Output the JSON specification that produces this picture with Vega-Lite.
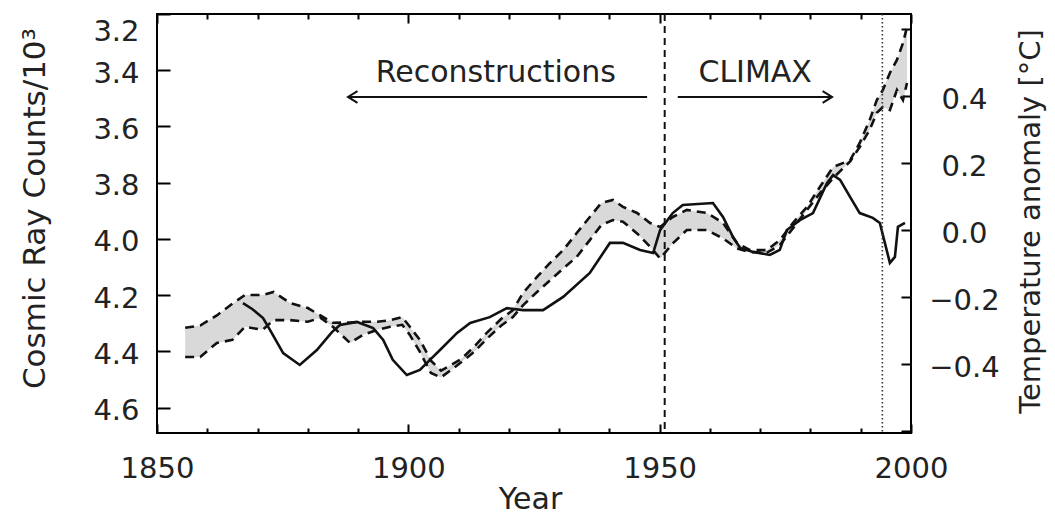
{
  "$schema": "https://vega.github.io/schema/vega-lite/v6.json",
  "width": 754,
  "height": 419,
  "autosize": "none",
  "padding": {"left": 157, "top": 14, "right": 144, "bottom": 82},
  "background": "white",
  "config": {
    "view": {"stroke": "#000", "strokeWidth": 2},
    "font": "DejaVu Sans",
    "axis": {
      "labelFont": "DejaVu Sans",
      "titleFont": "DejaVu Sans",
      "labelColor": "#222",
      "titleColor": "#222",
      "tickColor": "#000",
      "tickWidth": 2,
      "domain": false,
      "grid": false,
      "labelFontSize": 29,
      "titleFontSize": 30,
      "titleFontWeight": "normal",
      "labelOverlap": false,
      "labelFlush": false
    }
  },
  "datasets": {
    "cosmic": [
      {"year": 1867.1, "cr": 4.228}, {"year": 1869.0, "cr": 4.25}, {"year": 1871.1, "cr": 4.281},
      {"year": 1872.5, "cr": 4.324}, {"year": 1875.1, "cr": 4.406}, {"year": 1878.4, "cr": 4.448},
      {"year": 1881.8, "cr": 4.395}, {"year": 1884.8, "cr": 4.331}, {"year": 1886.4, "cr": 4.306},
      {"year": 1889.8, "cr": 4.295}, {"year": 1893.0, "cr": 4.317}, {"year": 1895.0, "cr": 4.359},
      {"year": 1896.9, "cr": 4.43}, {"year": 1899.7, "cr": 4.484}, {"year": 1902.3, "cr": 4.466},
      {"year": 1904.3, "cr": 4.43}, {"year": 1906.3, "cr": 4.395}, {"year": 1909.7, "cr": 4.334},
      {"year": 1912.3, "cr": 4.299}, {"year": 1916.2, "cr": 4.278}, {"year": 1919.6, "cr": 4.246},
      {"year": 1922.8, "cr": 4.253}, {"year": 1926.8, "cr": 4.253}, {"year": 1930.8, "cr": 4.206},
      {"year": 1936.1, "cr": 4.121}, {"year": 1940.1, "cr": 4.014}, {"year": 1942.7, "cr": 4.014},
      {"year": 1946.1, "cr": 4.039}, {"year": 1948.7, "cr": 4.05}, {"year": 1950.1, "cr": 3.968},
      {"year": 1952.6, "cr": 3.908}, {"year": 1954.6, "cr": 3.879}, {"year": 1960.6, "cr": 3.872},
      {"year": 1962.6, "cr": 3.922}, {"year": 1964.6, "cr": 3.993}, {"year": 1966.0, "cr": 4.032},
      {"year": 1968.6, "cr": 4.046}, {"year": 1971.9, "cr": 4.057}, {"year": 1973.9, "cr": 4.039},
      {"year": 1975.3, "cr": 3.968}, {"year": 1977.9, "cr": 3.933}, {"year": 1980.5, "cr": 3.908},
      {"year": 1983.3, "cr": 3.801}, {"year": 1984.5, "cr": 3.773}, {"year": 1985.9, "cr": 3.79},
      {"year": 1987.9, "cr": 3.851}, {"year": 1989.8, "cr": 3.908}, {"year": 1992.4, "cr": 3.925},
      {"year": 1993.8, "cr": 3.943}, {"year": 1994.8, "cr": 4.014}, {"year": 1995.8, "cr": 4.085},
      {"year": 1996.8, "cr": 4.064}, {"year": 1997.4, "cr": 3.957}, {"year": 1998.8, "cr": 3.943}
    ],
    "temp": [
      {"year": 1855.6, "hi": -0.292, "lo": -0.379}, {"year": 1858.6, "hi": -0.285, "lo": -0.379},
      {"year": 1861.9, "hi": -0.255, "lo": -0.337}, {"year": 1865.0, "hi": -0.22, "lo": -0.328},
      {"year": 1867.5, "hi": -0.194, "lo": -0.289}, {"year": 1871.0, "hi": -0.194, "lo": -0.298},
      {"year": 1873.2, "hi": -0.185, "lo": -0.269}, {"year": 1876.5, "hi": -0.218, "lo": -0.269},
      {"year": 1880.0, "hi": -0.233, "lo": -0.274}, {"year": 1882.5, "hi": -0.255, "lo": -0.262},
      {"year": 1885.0, "hi": -0.277, "lo": -0.289}, {"year": 1888.4, "hi": -0.276, "lo": -0.337},
      {"year": 1891.0, "hi": -0.274, "lo": -0.313}, {"year": 1893.8, "hi": -0.274, "lo": -0.298},
      {"year": 1896.4, "hi": -0.269, "lo": -0.289}, {"year": 1898.8, "hi": -0.26, "lo": -0.283},
      {"year": 1900.3, "hi": -0.289, "lo": -0.313}, {"year": 1902.3, "hi": -0.328, "lo": -0.364},
      {"year": 1904.5, "hi": -0.39, "lo": -0.427}, {"year": 1906.5, "hi": -0.42, "lo": -0.44},
      {"year": 1908.3, "hi": -0.405, "lo": -0.42}, {"year": 1910.5, "hi": -0.385, "lo": -0.395},
      {"year": 1913.0, "hi": -0.35, "lo": -0.365}, {"year": 1915.6, "hi": -0.307, "lo": -0.325},
      {"year": 1918.5, "hi": -0.265, "lo": -0.285}, {"year": 1920.8, "hi": -0.239, "lo": -0.26},
      {"year": 1922.8, "hi": -0.188, "lo": -0.225}, {"year": 1925.6, "hi": -0.14, "lo": -0.185},
      {"year": 1928.2, "hi": -0.098, "lo": -0.15}, {"year": 1930.8, "hi": -0.06, "lo": -0.115},
      {"year": 1933.5, "hi": -0.009, "lo": -0.08}, {"year": 1936.1, "hi": 0.039, "lo": -0.03},
      {"year": 1938.4, "hi": 0.081, "lo": 0.015}, {"year": 1940.7, "hi": 0.09, "lo": 0.03},
      {"year": 1942.7, "hi": 0.069, "lo": 0.025}, {"year": 1945.5, "hi": 0.051, "lo": -0.01},
      {"year": 1948.1, "hi": 0.021, "lo": -0.05}, {"year": 1950.1, "hi": 0.009, "lo": -0.085},
      {"year": 1952.6, "hi": 0.039, "lo": -0.04}, {"year": 1955.4, "hi": 0.06, "lo": 0.0},
      {"year": 1959.4, "hi": 0.051, "lo": 0.0}, {"year": 1962.6, "hi": 0.021, "lo": -0.025},
      {"year": 1965.4, "hi": -0.039, "lo": -0.055}, {"year": 1968.0, "hi": -0.06, "lo": -0.066},
      {"year": 1971.3, "hi": -0.06, "lo": -0.068}, {"year": 1973.9, "hi": -0.03, "lo": -0.045},
      {"year": 1976.5, "hi": 0.021, "lo": 0.005}, {"year": 1979.3, "hi": 0.069, "lo": 0.06},
      {"year": 1981.9, "hi": 0.129, "lo": 0.11}, {"year": 1984.5, "hi": 0.188, "lo": 0.155},
      {"year": 1987.9, "hi": 0.209, "lo": 0.205}, {"year": 1989.8, "hi": 0.26, "lo": 0.248},
      {"year": 1991.8, "hi": 0.329, "lo": 0.3}, {"year": 1993.2, "hi": 0.388, "lo": 0.35},
      {"year": 1994.4, "hi": 0.418, "lo": 0.367}, {"year": 1995.8, "hi": 0.469, "lo": 0.358},
      {"year": 1997.2, "hi": 0.508, "lo": 0.418}, {"year": 1998.4, "hi": 0.558, "lo": 0.388},
      {"year": 1999.2, "hi": 0.606, "lo": 0.439}
    ],
    "arrows": [
      {"name": "Reconstructions", "from": 1947.5, "to": 1888.0, "y": 3.495, "dir": "left"},
      {"name": "CLIMAX", "from": 1953.6, "to": 1984.3, "y": 3.495, "dir": "right"}
    ],
    "labels": [
      {"text": "Reconstructions", "year": 1917.4, "y": 3.41},
      {"text": "CLIMAX", "year": 1969.0, "y": 3.41}
    ],
    "vlines": [
      {"year": 1951.0, "kind": "dashed"},
      {"year": 1994.3, "kind": "dotted"}
    ]
  },
  "layer": [
    {
      "data": {"name": "temp"},
      "layer": [
        {
          "mark": {"type": "area", "color": "#cfcfcf", "opacity": 0.8},
          "encoding": {
            "x": {
              "field": "year", "type": "quantitative",
              "scale": {"domain": [1850, 2000], "nice": false, "zero": false},
              "axis": {
                "orient": "top",
                "values": [1850, 1860, 1870, 1880, 1890, 1900, 1910, 1920, 1930, 1940, 1950, 1960, 1970, 1980, 1990, 2000],
                "labels": false,
                "title": null,
                "tickSize": {"condition": {"test": "datum.value % 50 === 0", "value": -9}, "value": -5}
              }
            },
            "y": {
              "field": "lo", "type": "quantitative",
              "scale": {"domain": [-0.606, 0.645], "nice": false, "zero": false},
              "axis": {
                "orient": "right",
                "values": [-0.6, -0.55, -0.5, -0.45, -0.4, -0.35, -0.3, -0.25, -0.2, -0.15, -0.1, -0.05, 0, 0.05, 0.1, 0.15, 0.2, 0.25, 0.3, 0.35, 0.4, 0.45, 0.5, 0.55, 0.6],
                "labelExpr": "abs(datum.value*5 - round(datum.value*5)) < 0.001 && abs(datum.value) < 0.5 ? format(datum.value, '.1f') : ''",
                "tickSize": {"condition": {"test": "abs(datum.value*5 - round(datum.value*5)) < 0.001", "value": -10}, "value": -5},
                "labelPadding": 63,
                "labelOffset": 3,
                "labelAlign": "center",
                "labelBaseline": "middle",
                "title": "Temperature anomaly [°C]",
                "titleFontSize": 29,
                "titleAngle": 270,
                "titleX": 119,
                "titleY": 207,
                "titleAlign": "center",
                "titleBaseline": "middle"
              }
            },
            "y2": {"field": "hi"}
          }
        },
        {
          "mark": {"type": "line", "color": "#111", "strokeWidth": 2.6, "strokeDash": [9, 6]},
          "encoding": {
            "x": {"field": "year", "type": "quantitative"},
            "y": {"field": "hi", "type": "quantitative"}
          }
        },
        {
          "mark": {"type": "line", "color": "#111", "strokeWidth": 2.6, "strokeDash": [9, 6]},
          "encoding": {
            "x": {"field": "year", "type": "quantitative"},
            "y": {"field": "lo", "type": "quantitative"}
          }
        }
      ]
    },
    {
      "layer": [
        {
          "data": {"name": "cosmic"},
          "mark": {"type": "line", "color": "#111", "strokeWidth": 2.6, "interpolate": "linear"},
          "encoding": {
            "x": {
              "field": "year", "type": "quantitative",
              "scale": {"domain": [1850, 2000], "nice": false, "zero": false},
              "axis": {
                "orient": "bottom",
                "values": [1850, 1860, 1870, 1880, 1890, 1900, 1910, 1920, 1930, 1940, 1950, 1960, 1970, 1980, 1990, 2000],
                "format": "d",
                "labelExpr": "datum.value % 50 === 0 ? datum.label : ''",
                "tickSize": {"condition": {"test": "datum.value % 50 === 0", "value": -9}, "value": -5},
                "labelPadding": 44,
                "labelBaseline": "middle",
                "title": "Year",
                "titleX": 373,
                "titleY": 66,
                "titleAlign": "center",
                "titleBaseline": "middle"
              }
            },
            "y": {
              "field": "cr", "type": "quantitative",
              "scale": {"domain": [3.2, 4.69], "reverse": true, "nice": false, "zero": false},
              "axis": {
                "orient": "left",
                "values": [3.2, 3.25, 3.3, 3.35, 3.4, 3.45, 3.5, 3.55, 3.6, 3.65, 3.7, 3.75, 3.8, 3.85, 3.9, 3.95, 4.0, 4.05, 4.1, 4.15, 4.2, 4.25, 4.3, 4.35, 4.4, 4.45, 4.5, 4.55, 4.6, 4.65],
                "labelExpr": "abs(datum.value*5 - round(datum.value*5)) < 0.001 ? format(datum.value, '.1f') : ''",
                "tickSize": {"condition": {"test": "abs(datum.value*5 - round(datum.value*5)) < 0.001", "value": -13}, "value": -6},
                "labelPadding": 31,
                "labelOffset": 3,
                "labelBaseline": {"condition": {"test": "datum.value < 3.21", "value": "top"}, "value": "middle"},
                "title": "Cosmic Ray Counts/10³",
                "titleFontSize": 31,
                "titleAngle": 270,
                "titleX": -122,
                "titleY": 194,
                "titleAlign": "center",
                "titleBaseline": "middle"
              }
            }
          }
        },
        {
          "data": {"name": "vlines"},
          "transform": [{"filter": "datum.kind === 'dashed'"}],
          "mark": {"type": "rule", "color": "#111", "strokeWidth": 2, "strokeDash": [7, 5]},
          "encoding": {"x": {"field": "year", "type": "quantitative"}}
        },
        {
          "data": {"name": "vlines"},
          "transform": [{"filter": "datum.kind === 'dotted'"}],
          "mark": {"type": "rule", "color": "#333", "strokeWidth": 1.6, "strokeDash": [1.5, 2.5]},
          "encoding": {"x": {"field": "year", "type": "quantitative"}}
        },
        {
          "data": {"name": "arrows"},
          "mark": {"type": "rule", "color": "#111", "strokeWidth": 2},
          "encoding": {
            "x": {"field": "from", "type": "quantitative"},
            "x2": {"field": "to"},
            "y": {"field": "y", "type": "quantitative"}
          }
        },
        {
          "data": {"name": "arrows"},
          "transform": [{"filter": "datum.dir === 'left'"}],
          "mark": {"type": "point", "shape": "M 1.6 -1 L 0 0 L 1.6 1", "filled": false, "stroke": "#111", "strokeWidth": 2, "size": 140, "opacity": 1},
          "encoding": {
            "x": {"field": "to", "type": "quantitative"},
            "y": {"field": "y", "type": "quantitative"}
          }
        },
        {
          "data": {"name": "arrows"},
          "transform": [{"filter": "datum.dir === 'right'"}],
          "mark": {"type": "point", "shape": "M -1.6 -1 L 0 0 L -1.6 1", "filled": false, "stroke": "#111", "strokeWidth": 2, "size": 140, "opacity": 1},
          "encoding": {
            "x": {"field": "to", "type": "quantitative"},
            "y": {"field": "y", "type": "quantitative"}
          }
        },
        {
          "data": {"name": "labels"},
          "mark": {"type": "text", "font": "DejaVu Sans", "fontSize": 30, "color": "#222", "align": "center", "baseline": "middle"},
          "encoding": {
            "x": {"field": "year", "type": "quantitative"},
            "y": {"field": "y", "type": "quantitative"},
            "text": {"field": "text"}
          }
        }
      ]
    }
  ],
  "resolve": {
    "scale": {"y": "independent"},
    "axis": {"x": "independent", "y": "independent"}
  }
}
